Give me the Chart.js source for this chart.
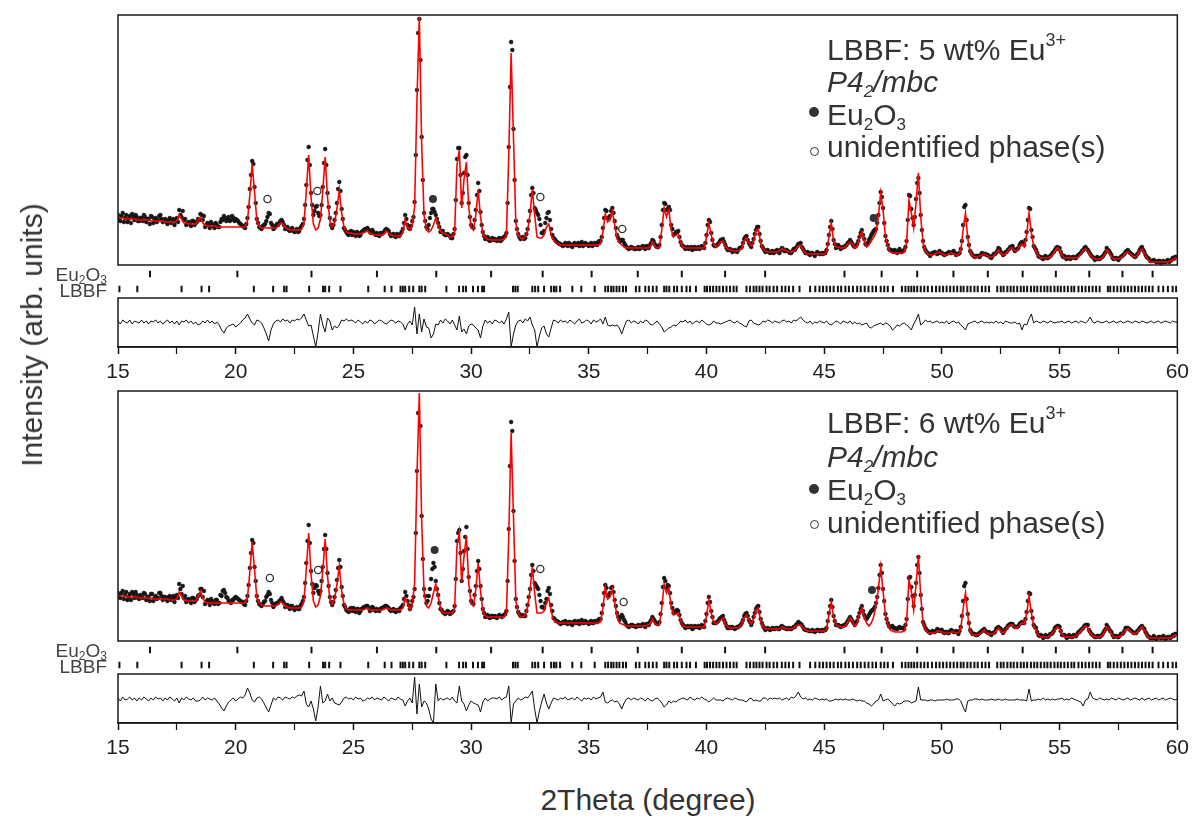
<!DOCTYPE html>
<html>
<head>
<meta charset="utf-8">
<title>LBBF:Eu XRD refinement</title>
<script src="https://cdn.jsdelivr.net/npm/chart.js@4"></script>
<style>
  body { margin: 0; background: #fff; }
  #wrap { position: relative; width: 1195px; height: 819px; font-family: "Liberation Sans", Arial, sans-serif; color: #333; }
  canvas { position: absolute; left: 0; }
  #c5 { top: 0; }
  #c6 { top: 376px; }
  .leg { position: absolute; left: 827px; font-size: 30px; line-height: 30px; white-space: nowrap; }
  .sup { font-size: 18px; vertical-align: 14px; line-height: 0; }
  .sub { font-size: 17px; vertical-align: -5px; line-height: 0; }
  .rowlab { position: absolute; left: 0; width: 107px; text-align: right; font-size: 19px; line-height: 19px; color: #444; white-space: nowrap; }
  .rowlab .sub { font-size: 12px; vertical-align: -3px; }
  .dot { position: absolute; width: 10px; height: 10px; border-radius: 50%; background: #333; }
  .ring { position: absolute; width: 7px; height: 7px; border-radius: 50%; border: 1.3px solid #333; }
  .title { position: absolute; font-size: 30px; line-height: 30px; white-space: nowrap; color: #333; }
</style>
</head>
<body>
<div id="wrap">
  <canvas id="c5" width="1195" height="382"></canvas>
  <canvas id="c6" width="1195" height="382"></canvas>

  <div class="leg" style="top:35px">LBBF: 5 wt% Eu<span class="sup">3+</span></div>
  <div class="leg" style="top:67px"><i>P4<span class="sub">2</span>/mbc</i></div>
  <div class="leg" style="top:100px">Eu<span class="sub">2</span>O<span class="sub">3</span></div>
  <div class="leg" style="top:132px">unidentified phase(s)</div>
  <div class="dot" style="left:809px; top:107px"></div>
  <div class="ring" style="left:810px; top:147px"></div>

  <div class="leg" style="top:408px">LBBF: 6 wt% Eu<span class="sup">3+</span></div>
  <div class="leg" style="top:442px"><i>P4<span class="sub">2</span>/mbc</i></div>
  <div class="leg" style="top:475px">Eu<span class="sub">2</span>O<span class="sub">3</span></div>
  <div class="leg" style="top:508px">unidentified phase(s)</div>
  <div class="dot" style="left:809px; top:484px"></div>
  <div class="ring" style="left:810px; top:520px"></div>

  <div class="rowlab" style="top:265px">Eu<span class="sub">2</span>O<span class="sub">3</span></div>
  <div class="rowlab" style="top:281px">LBBF</div>
  <div class="rowlab" style="top:641px">Eu<span class="sub">2</span>O<span class="sub">3</span></div>
  <div class="rowlab" style="top:657px">LBBF</div>

  <div class="title" style="left:32px; top:335px; transform: translate(-50%, -50%) rotate(-90deg);">Intensity (arb. units)</div>
  <div class="title" style="left:648px; top:800px; transform: translate(-50%, -50%);">2Theta (degree)</div>
</div>

<script>
// 2theta grids: 15.0..60.0 and the half steps 15.05..59.95 (deg)
var twoTheta = [];
for (var i = 0; i <= 450; i++) twoTheta.push(Math.round(150 + i) / 10);
var twoThetaMid = [];
for (var j = 0; j < 450; j++) twoThetaMid.push(Math.round(1505 + j * 10) / 100);

// 5 wt% Eu - observed / calculated / difference (arb. units)
var obs5 = [
  50,44,52,47,43,49,51,45,48,44,
  47,50,43,46,49,42,47,45,50,43,
  46,41,47,44,40,47,55,48,45,40,
  43,39,44,42,46,51,45,38,42,37,
  41,37,40,38,46,49,44,48,45,47,
  46,44,41,39,37,47,76,104,78,46,
  38,36,40,44,52,42,36,39,40,44,
  43,36,38,34,37,33,36,34,39,46,
  80,118,72,50,58,52,50,78,116,72,
  47,37,45,62,83,56,37,33,30,34,
  33,29,32,30,34,36,37,33,35,31,
  32,29,31,33,36,34,29,31,28,30,
  31,36,50,40,36,44,63,175,246,128,
  52,38,40,52,56,50,42,33,34,30,
  31,29,27,36,106,117,62,92,110,62,
  40,37,55,82,53,33,26,28,24,27,
  26,24,27,25,28,32,118,223,136,44,
  31,26,28,27,36,54,77,57,52,46,
  32,34,47,53,36,27,24,22,21,19,
  22,19,21,18,22,20,19,23,20,21,
  19,22,20,21,23,24,37,55,47,49,
  57,44,30,24,25,22,18,16,18,17,
  16,18,17,19,16,18,20,25,21,18,
  20,40,62,55,58,40,30,33,34,23,
  19,16,18,17,15,18,17,16,19,17,
  30,45,32,20,19,21,25,26,20,15,
  16,13,15,13,17,18,26,29,22,18,
  26,35,38,24,17,13,15,12,14,13,
  15,12,17,14,15,13,12,16,17,21,
  22,16,12,13,10,12,9,13,11,12,
  12,15,30,44,25,17,20,16,18,19,
  22,25,21,18,21,28,35,26,20,25,
  30,34,36,50,73,57,29,20,15,14,
  15,12,16,13,15,24,70,56,40,66,
  87,50,24,15,12,9,12,13,11,14,
  12,10,11,13,12,14,10,11,16,40,
  60,28,14,10,8,9,8,12,11,10,
  9,7,11,12,17,13,10,13,15,18,
  19,14,16,20,23,20,33,57,35,19,
  15,9,8,6,9,7,9,12,15,18,
  17,10,9,6,8,7,8,7,10,12,
  15,18,15,11,8,5,8,6,8,11,
  17,14,10,6,7,5,8,10,13,15,
  12,10,8,11,15,18,13,8,6,4,
  5,3,4,2,4,3,5,4,7,8,
  8
];
var obsMid5 = [
  46,49,43,50,46,42,48,50,44,47,
  44,48,46,41,48,45,43,49,46,45,
  43,45,42,46,44,43,50,54,46,42,
  41,44,40,43,45,50,49,40,40,43,
  39,42,38,43,45,47,46,44,49,44,
  45,42,40,38,41,58,90,101,62,42,
  37,39,41,48,51,40,37,41,42,45,
  40,37,35,36,34,35,33,37,41,60,
  105,100,60,54,59,49,60,102,100,58,
  40,40,52,76,74,46,35,31,33,30,
  31,33,29,33,35,36,35,32,33,30,
  30,32,32,35,35,31,30,29,31,29,
  33,42,46,37,39,48,110,232,205,85,
  44,36,47,56,53,46,38,34,31,30,
  30,27,31,65,117,90,72,108,90,48,
  38,45,70,74,40,29,27,25,26,25,
  25,26,24,27,29,62,178,215,85,36,
  28,27,26,31,44,70,72,55,50,40,
  32,42,52,45,30,26,23,21,20,20,
  20,22,19,21,20,22,21,19,22,20,
  21,19,22,20,24,28,47,54,47,54,
  52,37,27,24,25,20,17,17,17,16,
  17,16,18,17,19,17,22,24,19,18,
  28,55,61,56,55,36,31,33,28,20,
  18,17,16,18,17,16,18,17,18,22,
  40,43,25,19,20,23,25,23,17,15,
  15,14,14,15,17,22,28,25,20,22,
  31,38,31,19,15,14,13,13,12,14,
  13,15,16,14,14,12,14,15,19,21,
  18,14,12,11,12,11,11,12,11,11,
  12,21,38,36,21,18,18,17,18,20,
  23,23,19,19,24,32,30,21,22,27,
  32,35,42,62,68,42,24,16,15,13,
  13,14,13,14,18,45,69,47,48,82,
  72,35,18,13,11,11,12,12,12,12,
  11,11,12,12,13,12,11,12,24,58,
  45,20,12,9,9,9,10,11,11,10,
  8,9,11,14,16,12,11,13,16,18,
  16,15,17,22,21,25,45,56,28,17,
  12,8,7,8,7,8,10,13,17,16,
  13,8,7,8,6,8,7,9,11,14,
  17,16,13,9,7,7,6,7,9,13,
  15,12,7,7,6,7,9,11,14,13,
  11,9,9,12,17,15,10,7,4,4,
  4,3,4,3,3,4,3,5,6,8
];
var calc5 = [
  47,47,47,46,46,46,46,46,45,45,
  45,45,45,45,44,44,44,44,44,44,
  43,43,43,43,43,44,50,46,42,42,
  41,41,41,41,44,48,42,40,39,39,
  39,39,38,38,38,38,38,38,38,38,
  38,38,38,38,38,44,70,101,73,44,
  39,37,37,37,37,37,37,37,39,42,
  41,38,36,35,35,35,35,35,36,42,
  74,110,68,41,35,37,46,74,108,68,
  44,38,42,56,75,52,38,33,32,32,
  31,31,31,31,32,33,34,32,31,30,
  30,30,30,31,34,32,30,29,29,29,
  29,33,45,38,35,40,58,165,248,120,
  50,36,33,35,40,47,40,34,32,31,
  30,28,28,33,100,115,57,86,103,58,
  38,35,50,75,48,31,27,26,25,25,
  25,25,25,25,26,30,110,212,128,42,
  30,27,26,28,34,50,76,50,28,27,
  27,30,38,41,30,25,22,21,20,20,
  20,20,20,20,20,20,20,20,20,20,
  20,20,20,20,20,21,33,51,43,45,
  54,40,27,22,20,18,17,17,17,17,
  17,17,17,17,17,17,18,23,19,17,
  18,35,57,48,55,35,28,30,31,22,
  18,17,17,17,17,17,17,17,17,17,
  28,42,30,21,18,20,23,24,19,16,
  15,14,14,14,15,17,24,27,22,19,
  24,34,36,22,16,14,13,13,13,13,
  13,14,16,15,14,13,13,14,16,19,
  20,15,12,11,11,11,11,11,11,11,
  11,13,28,42,24,18,18,17,17,18,
  21,23,21,17,19,27,33,24,18,20,
  24,28,32,48,72,55,28,18,13,12,
  12,12,12,12,13,22,65,52,37,62,
  92,48,22,14,11,10,10,11,12,13,
  11,10,10,11,12,11,10,10,14,35,
  52,26,13,9,8,8,9,10,11,10,
  8,8,9,12,15,12,10,11,14,17,
  17,14,14,19,21,18,30,52,32,18,
  14,9,7,7,7,7,8,10,14,17,
  15,10,7,7,7,7,7,7,8,11,
  14,16,14,10,7,6,6,6,7,10,
  15,13,8,6,6,6,7,9,12,13,
  11,9,8,10,14,16,12,7,4,3,
  3,3,3,3,3,3,3,4,5,7,
  7
];
var diff5 = [
  1,-2,2,0,-1,2,-2,1,0,-1,
  2,-1,1,-2,1,0,2,-1,1,-2,
  0,2,-1,1,-2,1,-3,1,0,2,
  -1,1,-2,0,-3,-2,1,-1,2,-1,
  1,-2,0,-3,-8,-11,-6,-4,-3,-2,
  -5,-3,-1,2,4,8,3,-1,-3,2,
  1,-1,-6,-12,-19,-8,-2,1,2,0,
  3,1,2,-1,2,1,3,2,4,8,
  2,-4,-3,-14,-25,-10,8,-3,-10,4,
  1,-8,-4,-6,-3,2,1,3,1,2,
  1,-1,2,0,-2,1,-1,2,1,-2,
  0,2,1,-1,-2,0,2,1,-1,1,
  0,-2,-8,-2,1,-3,15,-12,8,-10,
  3,-5,-6,-16,-12,-2,-3,2,-1,3,
  1,-2,2,-3,-8,6,-10,-7,-12,-4,
  -2,-3,-6,-8,-16,-4,2,-1,1,-2,
  2,1,-1,1,-2,3,10,-25,-12,-3,
  1,2,-1,3,1,5,-3,-8,-25,-14,
  -6,-4,-12,-15,-6,2,1,-1,2,0,
  1,-1,2,0,-2,1,3,-1,0,2,
  1,-2,2,0,1,3,-2,5,-3,-4,
  -3,-4,-3,-6,-12,-5,1,2,-1,1,
  0,-2,1,-1,2,1,-2,-3,-1,1,
  -2,-5,-10,-8,-6,-5,-3,-4,-2,1,
  0,2,-1,1,-2,0,1,-1,2,0,
  -2,-3,-2,1,-1,-1,-2,-1,0,1,
  2,0,-1,1,-1,-2,-4,-5,1,2,
  -1,-2,-3,-2,1,0,2,1,-1,1,
  0,-1,1,2,0,1,-1,2,1,3,
  5,2,0,-1,1,-2,0,-1,1,0,
  -1,1,-2,-3,-1,1,0,-2,1,0,
  -1,1,-2,0,-2,-1,-3,-2,-1,-5,
  -6,-4,-3,-2,-1,-3,-1,-2,-4,-8,
  -6,-3,-4,-2,-1,-3,-5,-8,-2,2,
  8,-3,-1,2,0,1,-1,0,1,-1,
  0,-1,1,-2,0,1,-1,0,-3,-5,
  -8,-2,-1,0,1,-1,0,1,-1,0,
  -1,0,-1,1,-1,0,-2,1,0,-1,
  -1,0,-2,-1,-8,-2,-3,3,8,-1,
  1,0,-1,1,0,-1,1,0,-1,0,
  0,1,-1,0,1,-1,0,1,-1,1,
  0,-1,1,5,0,-1,1,0,-1,0,
  1,-1,0,1,-1,0,1,-1,0,1,
  0,-1,1,0,-1,1,0,-1,0,1,
  -1,0,1,-1,0,1,0,-1,1,0,
  0
];

// 6 wt% Eu
var obs6 = [
  48,43,50,46,41,47,49,43,46,42,
  45,48,41,44,47,40,45,43,48,41,
  44,40,45,42,39,46,57,47,43,39,
  42,38,43,41,45,52,44,37,41,36,
  40,37,41,38,45,51,44,40,38,41,
  44,42,40,39,36,45,73,101,74,45,
  37,35,39,44,49,41,34,37,38,41,
  40,34,36,32,35,31,34,32,37,44,
  78,116,70,48,56,50,50,74,106,68,
  44,36,44,61,81,54,36,31,29,33,
  33,29,32,30,33,34,35,30,34,31,
  32,30,33,34,35,33,30,32,29,31,
  33,36,49,40,32,40,52,170,255,125,
  52,38,45,62,78,60,46,32,29,27,
  30,27,29,35,100,111,60,90,114,64,
  40,37,55,80,55,32,24,26,23,25,
  25,23,26,24,26,30,112,219,130,42,
  29,25,26,25,36,52,76,58,54,46,
  34,33,42,53,36,23,20,19,17,19,
  20,17,19,16,20,18,17,21,18,19,
  17,20,18,19,21,22,36,56,45,48,
  54,41,28,21,26,21,16,14,16,15,
  14,16,15,17,14,17,19,24,20,17,
  19,38,63,53,55,38,28,30,30,21,
  16,13,15,14,12,15,14,13,16,14,
  27,44,30,18,18,20,23,25,18,13,
  14,14,12,14,15,18,25,28,21,16,
  24,32,35,22,15,11,13,11,13,12,
  13,12,15,13,12,13,12,14,16,19,
  17,14,11,11,10,11,9,11,10,11,
  11,13,28,41,25,16,16,14,15,16,
  20,24,20,16,20,28,35,26,22,26,
  30,32,38,53,76,52,27,18,14,15,
  13,12,14,13,12,22,63,54,35,58,
  84,46,19,13,10,8,10,9,12,10,
  11,8,9,8,11,9,10,7,14,40,
  58,27,11,7,7,6,8,10,12,9,
  9,6,8,12,14,12,8,12,15,17,
  17,14,14,17,19,18,29,48,30,16,
  13,6,6,3,6,4,7,8,13,15,
  14,6,6,3,6,4,6,5,9,11,
  13,16,16,9,6,4,5,4,6,10,
  16,12,9,4,5,4,7,8,13,13,
  11,9,8,10,13,15,12,7,4,3,
  5,2,4,3,5,2,4,3,6,7,
  7
];
var obsMid6 = [
  45,48,42,49,44,41,47,49,43,46,
  43,47,44,40,47,43,42,48,45,44,
  42,44,41,45,43,43,52,55,45,41,
  40,43,39,42,46,52,50,39,39,42,
  38,41,37,46,50,48,43,39,41,43,
  43,41,39,37,40,56,88,98,60,40,
  36,37,40,46,47,38,36,38,40,43,
  38,35,34,35,33,33,32,35,40,58,
  100,98,57,53,55,47,60,92,92,55,
  39,39,51,73,74,45,34,30,32,30,
  31,32,28,32,34,35,33,31,33,30,
  31,32,33,35,34,31,31,30,31,30,
  34,42,45,36,35,44,108,228,215,82,
  45,40,52,72,74,52,38,31,28,28,
  29,28,30,62,108,88,72,104,92,50,
  38,46,70,72,42,28,25,24,25,24,
  24,25,25,25,27,60,175,210,80,34,
  27,25,25,30,44,66,70,56,52,40,
  34,38,50,47,30,22,20,18,18,18,
  18,19,17,19,18,20,19,18,20,18,
  19,18,20,19,22,28,48,53,46,53,
  49,35,24,24,24,19,15,15,16,15,
  15,15,16,15,17,16,21,22,18,17,
  27,54,60,56,48,33,29,31,26,18,
  15,14,14,15,13,14,15,14,15,20,
  38,39,24,18,19,22,24,21,15,13,
  13,13,13,14,16,21,27,25,19,19,
  28,34,29,18,13,12,12,12,12,13,
  12,14,14,13,12,12,13,14,17,18,
  16,12,11,10,10,10,10,11,10,10,
  11,20,35,34,20,16,15,15,16,18,
  22,22,18,18,24,32,30,23,24,28,
  31,34,44,66,68,40,22,15,14,13,
  12,13,13,13,16,42,64,45,46,76,
  68,32,16,11,9,9,9,10,11,11,
  9,9,8,10,10,9,9,10,25,55,
  42,18,9,7,6,7,9,11,10,8,
  7,8,9,13,13,10,10,13,16,17,
  15,14,15,18,18,22,40,47,23,14,
  9,5,5,4,5,5,7,10,14,15,
  10,6,5,4,5,4,5,7,9,12,
  15,16,11,7,5,4,5,5,8,12,
  14,10,6,5,4,5,7,10,13,12,
  10,8,8,11,14,13,9,5,3,3,
  3,3,4,3,4,3,4,4,5,7
];
var calc6 = [
  45,45,45,45,44,44,44,44,44,43,
  43,43,43,43,43,42,42,42,42,42,
  42,42,41,41,41,42,49,45,41,40,
  40,40,40,40,44,50,43,39,38,38,
  38,38,38,38,38,38,38,38,38,38,
  38,38,38,38,38,43,69,99,71,43,
  38,36,35,35,35,35,35,35,37,39,
  38,35,34,33,33,33,33,33,34,40,
  72,108,67,40,34,36,45,70,102,65,
  42,37,42,56,75,50,37,32,31,31,
  31,31,31,31,31,32,33,31,31,31,
  31,31,31,32,33,32,31,31,31,31,
  31,33,43,38,31,37,58,165,248,120,
  50,35,33,38,48,57,45,33,28,28,
  28,28,28,33,95,109,58,85,105,58,
  38,35,52,78,50,30,25,24,24,24,
  24,24,24,24,24,28,105,208,125,40,
  28,24,24,26,34,50,74,48,28,28,
  28,30,38,43,30,21,19,18,18,18,
  18,18,18,18,18,18,18,18,18,18,
  18,18,18,18,18,19,33,54,42,44,
  52,38,25,18,17,16,15,15,15,15,
  15,15,15,15,15,16,17,22,18,16,
  17,33,57,48,53,34,26,27,28,20,
  15,14,14,14,14,14,14,14,14,14,
  25,41,28,19,17,19,21,23,17,14,
  13,13,13,13,14,17,23,26,21,17,
  22,31,33,20,14,12,12,12,12,12,
  12,12,14,13,12,12,12,13,15,16,
  16,13,11,10,10,10,10,10,10,10,
  10,12,26,39,24,16,15,14,14,15,
  19,23,20,15,18,27,33,24,18,15,
  18,24,36,52,74,50,26,17,11,10,
  9,9,9,9,10,20,61,50,31,56,
  86,45,18,12,8,8,8,8,10,10,
  9,8,8,8,9,9,8,8,12,32,
  48,25,10,6,6,6,7,9,11,8,
  7,7,7,10,13,10,8,10,14,16,
  16,13,13,16,18,17,27,45,28,15,
  11,6,4,4,4,4,5,8,11,14,
  12,7,4,4,4,4,4,5,7,10,
  13,15,13,8,5,4,4,4,5,9,
  14,12,7,4,4,4,5,8,11,12,
  10,8,7,9,12,14,11,6,3,3,
  3,3,3,3,3,3,3,3,4,6,
  6
];
var diff6 = [
  1,-2,2,-1,0,2,-1,1,-2,1,
  -1,2,0,-2,1,-1,2,0,1,-2,
  1,-1,2,0,-2,1,-4,1,-1,2,
  0,-1,1,-2,-2,-1,2,-1,1,0,
  -1,1,-2,-5,-9,-12,-7,-3,-1,1,
  -2,0,2,1,4,11,6,-1,-3,1,
  2,0,-4,-9,-13,-6,1,-1,2,1,
  -1,2,1,0,2,1,3,4,3,8,
  -5,-8,-2,-10,-22,-8,13,-4,-2,5,
  -2,1,-4,-5,-6,-3,1,2,0,1,
  -1,2,0,1,-2,-1,1,0,2,-1,
  1,0,-1,2,0,-2,1,0,-1,2,
  0,-1,-7,-2,1,-4,22,-15,15,-8,
  -2,-4,-10,-20,-24,15,-2,1,-1,0,
  1,-1,2,-2,-4,13,-2,-5,-12,-6,
  -2,-4,-5,-6,-13,-3,1,-2,0,1,
  1,0,2,-1,1,2,13,-24,-5,-2,
  1,-1,0,2,1,4,8,-10,-24,-12,
  -3,5,-4,-10,-4,1,0,-1,1,0,
  2,-1,0,1,-1,2,0,-2,1,0,
  1,-1,2,0,1,2,7,-3,-4,-2,
  -1,-3,-2,-5,-10,-4,0,1,-1,1,
  0,-1,1,0,-2,1,-1,-2,0,1,
  -1,-4,-8,-6,-2,-4,-2,-3,-1,0,
  1,0,-1,2,0,-1,1,0,2,0,
  -1,-3,-1,1,-1,-1,-1,-2,0,1,
  0,-1,1,0,-1,-1,-2,-3,0,1,
  -2,-1,-2,-2,1,1,-1,1,0,1,
  0,1,-1,0,1,-1,2,1,3,7,
  2,0,1,-1,0,-1,1,0,-1,0,
  -1,0,-2,-2,-1,0,-1,0,-1,0,
  -1,-1,0,-1,-2,-1,-2,-2,-4,-5,
  -7,-5,-2,-1,5,-2,-1,0,-2,-5,
  -7,-4,-5,-4,-2,-2,-2,-4,-3,-2,
  12,-1,-1,-1,-2,-1,-1,-2,-1,-1,
  -1,-1,0,-1,-1,-1,0,0,-2,-8,
  -13,-2,-1,-1,0,0,-1,0,-1,-1,
  -1,0,-1,-1,0,-1,-1,0,-1,-1,
  -1,-1,0,-1,-1,-1,-2,10,-2,-1,
  -1,0,-1,1,-1,0,-1,0,-1,0,
  0,1,-1,0,-1,1,0,-1,-2,-3,
  -7,-1,0,7,1,0,-1,1,0,-1,
  0,-1,1,0,-1,1,0,-1,0,1,
  -1,0,1,0,-1,1,-1,0,1,-1,
  0,1,-1,0,1,-1,0,1,0,-1,
  0
];

// Bragg reflection positions (deg 2theta)
var eu2o3Refl = [16.36, 20.07, 23.22, 26.0, 28.52, 30.85, 33.04, 35.12, 37.08, 38.95, 40.79, 42.49,
  45.86, 47.44, 48.95, 50.49, 51.95, 53.43, 54.84, 56.26, 57.67, 58.95];
var lbbfRefl = [15.06, 15.82, 17.70, 18.55, 18.87, 20.77, 21.59, 22.06, 22.16, 23.12, 23.71, 23.80,
  23.97, 24.45, 25.63, 26.33, 26.62, 27.00, 27.10, 27.20, 27.37, 27.54, 27.80, 27.90, 28.05, 28.95,
  29.49, 29.66, 29.78, 30.08, 30.29, 30.47, 30.55, 31.78, 31.88, 31.98, 32.60, 32.72, 32.85, 33.10,
  33.40, 33.52, 33.62, 33.78, 34.30, 34.68, 35.25, 35.70, 35.82, 35.95, 36.05, 36.18, 36.30, 36.45,
  36.58, 37.00, 37.15, 37.40, 37.55, 37.72, 37.88, 38.20, 38.30, 38.42, 38.62, 38.75, 38.95, 39.15,
  39.30, 39.55, 39.92, 40.02, 40.15, 40.28, 40.42, 40.55, 40.70, 40.85, 41.00, 41.15, 41.28, 41.70,
  41.85, 42.00, 42.12, 42.25, 42.38, 42.55, 42.68, 42.85, 43.00, 43.20, 43.35, 43.50, 43.68, 43.95,
  44.40, 44.62, 44.80, 44.95, 45.10, 45.25, 45.40, 45.58, 45.72, 45.90, 46.05, 46.22, 46.40, 46.55,
  46.72, 46.88, 47.05, 47.20, 47.40, 47.55, 47.70, 47.92, 48.30, 48.45, 48.58, 48.70, 48.82, 48.95,
  49.10, 49.25, 49.40, 49.58, 49.75, 49.90, 50.05, 50.20, 50.35, 50.50, 50.65, 50.80, 50.92, 51.08,
  51.22, 51.38, 51.52, 51.70, 51.85, 52.00, 52.35, 52.50, 52.62, 52.78, 52.92, 53.05, 53.20, 53.35,
  53.48, 53.62, 53.78, 53.92, 54.05, 54.20, 54.35, 54.48, 54.62, 54.78, 54.92, 55.05, 55.20, 55.35,
  55.50, 55.62, 55.80, 55.95, 56.10, 56.25, 56.40, 56.55, 56.70, 57.05, 57.15, 57.30, 57.45, 57.60,
  57.75, 57.90, 58.05, 58.20, 58.35, 58.50, 58.65, 58.80, 58.95, 59.20, 59.40, 59.60, 59.80, 59.95];

// marked extra reflections (2theta, intensity)
var euMark5X = [28.38, 47.1];
var euMark5Y = [66, 47];
var unMark5X = [21.35, 23.47, 32.94, 36.42];
var unMark5Y = [66, 74, 68, 36];
var euMark6X = [28.45, 47.03];
var euMark6Y = [91, 51];
var unMark6X = [21.45, 23.5, 32.94, 36.48];
var unMark6Y = [63, 71, 72, 39];

var FONT = "'Liberation Sans', Arial, sans-serif";
Chart.defaults.font.family = FONT;

function toXY(xs, ys) {
  return xs.map(function (x, i) {
    return { x: x, y: ys[i] };
  });
}

function rowXY(xs, level) {
  return xs.map(function (x) {
    return { x: x, y: level };
  });
}

// box frames around the pattern and the difference curve
var framePlugin = {
  id: "frames",
  afterDatasetsDraw: function (chart) {
    var ctx = chart.ctx;
    var area = chart.chartArea;
    ctx.save();
    ctx.strokeStyle = "#1a1a1a";
    ctx.lineWidth = 1.5;
    ["yMain", "yDiff"].forEach(function (id) {
      var s = chart.scales[id];
      ctx.strokeRect(area.left, s.top, area.right - area.left, s.bottom - s.top);
    });
    ctx.restore();
  },
};

function buildPanel(canvasId, obs, obsMid, calc, diff, euX, euY, unX, unY, diffMin, diffMax) {
  var ctx = document.getElementById(canvasId).getContext("2d");
  var obsPoints = toXY(twoTheta, obs).concat(toXY(twoThetaMid, obsMid));
  return new Chart(ctx, {
    type: "line",
    data: {
      datasets: [
        {
          label: "Eu2O3 marks",
          data: toXY(euX, euY),
          yAxisID: "yMain",
          showLine: false,
          pointStyle: "circle",
          pointRadius: 4,
          backgroundColor: "#333",
          borderColor: "#333",
          borderWidth: 0,
          order: 0,
        },
        {
          label: "unidentified marks",
          data: toXY(unX, unY),
          yAxisID: "yMain",
          showLine: false,
          pointStyle: "circle",
          pointRadius: 3.6,
          backgroundColor: "#fff",
          borderColor: "#333",
          borderWidth: 1.3,
          order: 0,
        },
        {
          label: "calc",
          data: toXY(twoTheta, calc),
          yAxisID: "yMain",
          borderColor: "#ff0000",
          borderWidth: 1.6,
          pointRadius: 0,
          tension: 0,
          order: 1,
        },
        {
          label: "obs",
          data: obsPoints,
          yAxisID: "yMain",
          showLine: false,
          pointStyle: "circle",
          pointRadius: 1.9,
          backgroundColor: "#151515",
          borderColor: "#151515",
          borderWidth: 0.6,
          order: 2,
        },
        {
          label: "Eu2O3",
          data: rowXY(eu2o3Refl, 2),
          yAxisID: "yRef",
          showLine: false,
          pointStyle: "line",
          rotation: 90,
          pointRadius: 3.2,
          borderColor: "#111",
          borderWidth: 2,
          order: 1,
        },
        {
          label: "LBBF",
          data: rowXY(lbbfRefl, 1),
          yAxisID: "yRef",
          showLine: false,
          pointStyle: "line",
          rotation: 90,
          pointRadius: 3.2,
          borderColor: "#111",
          borderWidth: 2,
          order: 1,
        },
        {
          label: "diff",
          data: toXY(twoTheta, diff),
          yAxisID: "yDiff",
          borderColor: "#111",
          borderWidth: 1,
          pointRadius: 0,
          tension: 0,
          order: 1,
        },
      ],
    },
    options: {
      responsive: false,
      animation: false,
      devicePixelRatio: 1,
      layout: { padding: { left: 118, right: 17, top: 15, bottom: 0 } },
      plugins: {
        legend: { display: false },
        tooltip: { enabled: false },
      },
      events: [],
      scales: {
        x: {
          type: "linear",
          position: "bottom",
          min: 15,
          max: 60,
          ticks: {
            stepSize: 2.5,
            autoSkip: false,
            maxRotation: 0,
            padding: 6,
            color: "#222",
            font: { size: 21 },
            callback: function (v) {
              return v % 5 === 0 ? String(v) : "";
            },
          },
          grid: {
            drawOnChartArea: false,
            tickLength: 7,
            color: "#111",
            tickWidth: function (c) {
              return c.tick && c.tick.value % 5 === 0 ? 1.5 : 1.2;
            },
          },
          border: { color: "#111", width: 1.5 },
          afterFit: function (scale) {
            scale.height = 35;
          },
        },
        yDiff: {
          type: "linear",
          display: false,
          position: "left",
          stack: "panel",
          stackWeight: 49,
          weight: 1,
          min: diffMin,
          max: diffMax,
        },
        yRef: {
          type: "linear",
          display: false,
          position: "left",
          stack: "panel",
          stackWeight: 33,
          weight: 2,
          min: 0.4,
          max: 2.6,
        },
        yMain: {
          type: "linear",
          display: false,
          position: "left",
          stack: "panel",
          stackWeight: 250,
          weight: 3,
          min: 0,
          max: 250,
        },
      },
    },
    plugins: [framePlugin],
  });
}

buildPanel("c5", obs5, obsMid5, calc5, diff5, euMark5X, euMark5Y, unMark5X, unMark5Y, -25, 24);
buildPanel("c6", obs6, obsMid6, calc6, diff6, euMark6X, euMark6Y, unMark6X, unMark6Y, -24, 25);
</script>
</body>
</html>
